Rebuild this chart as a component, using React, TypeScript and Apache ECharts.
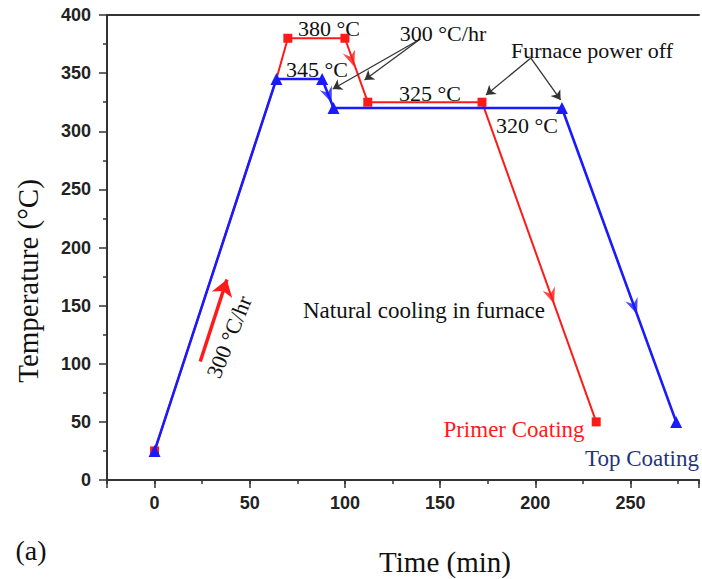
import React, { useEffect, useRef } from 'react';
import * as echarts from 'echarts';

// ---- data ----
const primerCoating: [number, number][] = [[0, 25], [64, 345], [70, 380], [100, 380], [112, 325], [172, 325], [232, 50]];
const topCoating: [number, number][] = [[0, 25], [64, 345], [88, 345], [94, 320], [214, 320], [274, 50]];
const primerDirectionMarks: [number, number][] = [[103.5, 362], [208.5, 158]];
const topDirectionMarks: [number, number][] = [[91.5, 331], [252, 149]];
const heatingRateArrow: [number, number][] = [[24, 102], [38, 172.5]];
const coolingRateArrows: [number, number][][] = [[[139.6, 379.4], [110.3, 344.1]], [[139.6, 379.4], [93.6, 336.3]]];
const powerOffArrows: [number, number][][] = [[[197.7, 363], [174.1, 331.2]], [[197.7, 363], [213.3, 326.9]]];
const xTickLabels = ['0', '50', '100', '150', '200', '250'];
const yTickLabels = ['0', '50', '100', '150', '200', '250', '300', '350', '400'];

const X_MIN = -25;
const X_MAX = 286;
const Y_MIN = 0;
const Y_MAX = 400;

const W = 702;
const H = 579;
const GRID = { left: 107, top: 15, right: 0, bottom: 99 };

const RED = '#ff1a1a';
const BLUE = '#1a1aff';
const AXIS = '#333';
const SERIF = '"Liberation Serif", "Times New Roman", serif';
const SANS = '"Liberation Sans", Arial, sans-serif';

const kx = (W - GRID.left - GRID.right) / (X_MAX - X_MIN);
const ky = (H - GRID.top - GRID.bottom) / (Y_MAX - Y_MIN);

function directionAngle(series: [number, number][], p: [number, number]) {
  let best = 0;
  let bestD = Infinity;
  for (let i = 0; i < series.length - 1; i++) {
    const [x1, y1] = series[i];
    const [x2, y2] = series[i + 1];
    if (p[0] < Math.min(x1, x2) - 1 || p[0] > Math.max(x1, x2) + 1) continue;
    const t = x2 === x1 ? 0 : (p[0] - x1) / (x2 - x1);
    const yy = y1 + t * (y2 - y1);
    const d = Math.abs(yy - p[1]);
    if (d < bestD) { bestD = d; best = i; }
  }
  const [x1, y1] = series[best];
  const [x2, y2] = series[best + 1];
  const phi = Math.atan2((y2 - y1) * ky, (x2 - x1) * kx) * 180 / Math.PI;
  return phi - 90;
}

const ARROW_PATH = 'path://M0,0 L6,15 L0,10 L-6,15 Z';

function marks(series: [number, number][], pts: [number, number][]) {
  return pts.map((p) => ({ value: p, symbolRotate: directionAngle(series, p) }));
}

function txt(text: string, x: number, y: number, size: number, fill = '#111', rotation = 0, family = SERIF) {
  return {
    type: 'text',
    x, y, rotation,
    style: { text, fill, font: `${size}px ${family}`, align: 'center', verticalAlign: 'middle' },
    z: 100,
  };
}

export default function App() {
  const ref = useRef<HTMLDivElement>(null);
  useEffect(() => {
    if (!ref.current) return;
    const chart = echarts.init(ref.current, undefined, { renderer: 'svg' });
    const labelSet = new Set(xTickLabels);
    const ySet = new Set(yTickLabels);
    chart.setOption({
      animation: false,
      backgroundColor: '#fff',
      grid: { ...GRID, containLabel: false },
      xAxis: [
        {
          type: 'value', min: X_MIN, max: X_MAX, interval: 25, position: 'bottom',
          axisLine: { show: true, onZero: false, lineStyle: { color: AXIS, width: 2 } },
          axisTick: { show: true, length: 4, lineStyle: { color: AXIS, width: 1.5 } },
          axisLabel: { show: false },
          splitLine: { show: false },
        },
        {
          type: 'value', min: X_MIN, max: X_MAX, splitNumber: 6, position: 'bottom',
          axisLine: { show: false, onZero: false },
          axisTick: { show: true, length: 8, lineStyle: { color: AXIS, width: 1.5 } },
          axisLabel: {
            show: true, margin: 14, fontFamily: SANS, fontWeight: 'bold', fontSize: 18, color: '#222',
            formatter: (v: number) => (labelSet.has(String(v)) ? String(v) : ''),
          },
          splitLine: { show: false },
        },
        {
          type: 'value', min: X_MIN, max: X_MAX, position: 'top',
          axisLine: { show: true, onZero: false, lineStyle: { color: AXIS, width: 2 } },
          axisTick: { show: false }, axisLabel: { show: false }, splitLine: { show: false },
        },
      ],
      yAxis: {
        type: 'value', min: Y_MIN, max: Y_MAX, interval: 50,
        axisLine: { show: true, onZero: false, lineStyle: { color: AXIS, width: 2 } },
        axisTick: { show: true, length: 8, lineStyle: { color: AXIS, width: 1.5 } },
        minorTick: { show: true, splitNumber: 2, length: 4, lineStyle: { color: AXIS, width: 1.5 } },
        axisLabel: {
          margin: 16, fontFamily: SANS, fontWeight: 'bold', fontSize: 18, color: '#222',
          formatter: (v: number) => (ySet.has(String(v)) ? String(v) : ''),
        },
        splitLine: { show: false },
      },
      series: [
        {
          name: 'Primer Coating', type: 'line', xAxisIndex: 0,
          data: primerCoating.map((p, i) => (i === 1 ? { value: p, symbol: 'none' } : { value: p })),
          symbol: 'rect', symbolSize: 9, showAllSymbol: true,
          lineStyle: { color: RED, width: 2 }, itemStyle: { color: RED }, z: 2,
        },
        {
          name: 'Top Coating', type: 'line', xAxisIndex: 0,
          data: topCoating, symbol: 'triangle', symbolSize: 12, showAllSymbol: true,
          lineStyle: { color: BLUE, width: 2.6 }, itemStyle: { color: BLUE }, z: 3,
        },
        {
          type: 'scatter', xAxisIndex: 0, data: marks(primerCoating, primerDirectionMarks),
          symbol: ARROW_PATH, symbolSize: [13, 16], itemStyle: { color: RED }, z: 4,
        },
        {
          type: 'scatter', xAxisIndex: 0, data: marks(topCoating, topDirectionMarks),
          symbol: ARROW_PATH, symbolSize: [13, 16], itemStyle: { color: BLUE }, z: 4,
        },
        {
          type: 'lines', coordinateSystem: 'cartesian2d', xAxisIndex: 0, yAxisIndex: 0,
          data: [{ coords: heatingRateArrow }],
          symbol: ['none', 'arrow'], symbolSize: 16,
          lineStyle: { color: RED, width: 3.5, opacity: 1, curveness: 0 }, z: 5,
        },
        {
          type: 'lines', coordinateSystem: 'cartesian2d', xAxisIndex: 0, yAxisIndex: 0,
          data: [...coolingRateArrows, ...powerOffArrows].map((c) => ({ coords: c })),
          symbol: ['none', 'arrow'], symbolSize: 9,
          lineStyle: { color: '#333', width: 1.3, opacity: 1, curveness: 0 }, z: 5,
        },
      ],
      graphic: [
        txt('380 °C', 329, 28, 22),
        txt('345 °C', 317, 69, 22),
        txt('300 °C/hr', 443, 33, 22),
        txt('325 °C', 430, 93, 22),
        txt('320 °C', 527, 125, 22),
        txt('Furnace power off', 592, 50, 22),
        txt('Natural cooling in furnace', 424, 310, 23),
        txt('Primer Coating', 514, 429, 23, RED),
        txt('Top Coating', 642, 458, 23, '#1f357a'),
        txt('300 °C/hr', 229, 337, 22, '#111', 68 * Math.PI / 180),
        txt('(a)', 31, 550, 28),
        txt('Time (min)', 445, 562, 29),
        txt('Temperature (°C)', 28, 281, 29, '#111', Math.PI / 2),
      ],
    });
    return () => chart.dispose();
  }, []);
  return <div ref={ref} style={{ position: 'fixed', left: 0, top: 0, width: W, height: H, background: '#fff' }} />;
}
